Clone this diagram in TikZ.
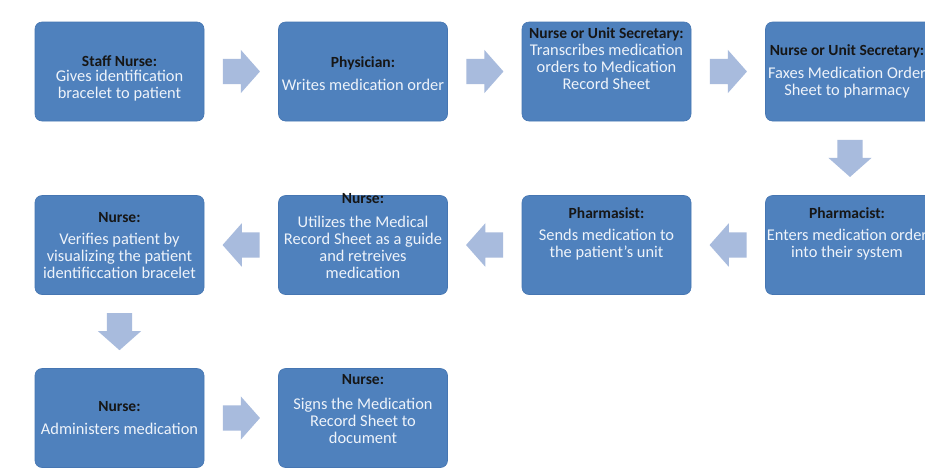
\documentclass[tikz,border=0pt]{standalone}
\usepackage{fontspec}
\setmainfont{Carlito}
\usetikzlibrary{shapes.arrows,calc}
\definecolor{boxblue}{HTML}{4F81BD}
\definecolor{boxedge}{HTML}{4676B2}
\definecolor{arrowblue}{HTML}{A8BBDD}
\definecolor{titleink}{HTML}{161616}
\definecolor{bodyink}{HTML}{EEF3FA}
\newcommand{\steptitle}[1]{{\fontsize{15.5}{17}\selectfont\bfseries\color{titleink}#1}}
\begin{document}
\begin{tikzpicture}[x=1pt,y=-1pt,
  stepbox/.style={draw=boxedge, line width=0.6pt, fill=boxblue, rounded corners=7pt,
    minimum width=169pt, minimum height=99pt, inner sep=0pt},
  steptext/.style={anchor=north, align=center, inner sep=0pt, text=bodyink,
    font=\fontsize{16.4}{17}\selectfont},
  flowarrow/.style={single arrow, fill=arrowblue, draw=none, minimum height=37pt,
    minimum width=0pt, single arrow head extend=9pt, single arrow tip angle=97,
    inner xsep=0pt, inner ysep=12.5pt, anchor=tail}]
\useasboundingbox (0,0) rectangle (925,467);
\clip (0,0) rectangle (925,467);
\fill[white] (0,0) rectangle (925,467);

% process boxes: three rows, snake order
\node[stepbox] (b1) at (119.5,71.5) {};
\node[stepbox] (b2) at (363,71.5) {};
\node[stepbox] (b3) at (606.5,71.5) {};
\node[stepbox] (b4) at (850,71.5) {};
\node[stepbox] (c4) at (850,245) {};
\node[stepbox] (c3) at (606.5,245) {};
\node[stepbox] (c2) at (363,245) {};
\node[stepbox] (c1) at (119.5,245) {};
\node[stepbox] (d1) at (119.5,418) {};
\node[stepbox] (d2) at (363,418) {};

% box labels
\node[steptext] (tb1) at (119.5,55) {\steptitle{Staff Nurse:}\\[-2pt] Gives identification\\ bracelet to patient};
\node[steptext] (tb2) at (363,56) {\steptitle{Physician:}\\[6pt] Writes medication order};
\node[steptext] (tb3) at (606.5,27) {\steptitle{Nurse or Unit Secretary:}\\ Transcribes medication\\ orders to Medication\\ Record Sheet};
\node[steptext] (tb4) at (847,44) {\steptitle{Nurse or Unit Secretary:}\\[6pt] Faxes Medication Order\\ Sheet to pharmacy};
\node[steptext] (tc4) at (847,207) {\steptitle{Pharmacist:}\\[5pt] Enters medication order\\ into their system};
\node[steptext] (tc3) at (606.5,207) {\steptitle{Pharmasist:}\\[5pt] Sends medication to\\ the patient's unit};
\node[steptext] (tc2) at (363,193) {\steptitle{Nurse:}\\[7pt] Utilizes the Medical\\ Record Sheet as a guide\\ and retreives\\ medication};
\node[steptext] (tc1) at (119.5,212) {\steptitle{Nurse:}\\[5pt] Verifies patient by\\ visualizing the patient\\ identificcation bracelet};
\node[steptext] (td1) at (119.5,401) {\steptitle{Nurse:}\\[6pt] Administers medication};
\node[steptext] (td2) at (363,374) {\steptitle{Nurse:}\\[8pt] Signs the Medication\\ Record Sheet to\\ document};

% midpoints of the gaps between consecutive steps
\coordinate (m1) at ($(b1.east)!0.5!(b2.west)$);
\coordinate (m2) at ($(b2.east)!0.5!(b3.west)$);
\coordinate (m3) at ($(b3.east)!0.5!(b4.west)$);
\coordinate (m4) at ($(b4.south)!0.5!(c4.north)$);
\coordinate (m5) at ($(c4.west)!0.5!(c3.east)$);
\coordinate (m6) at ($(c3.west)!0.5!(c2.east)$);
\coordinate (m7) at ($(c2.west)!0.5!(c1.east)$);
\coordinate (m8) at ($(c1.south)!0.5!(d1.north)$);
\coordinate (m9) at ($(d1.east)!0.5!(d2.west)$);

% block arrows, each centred in its gap
\node[flowarrow] (a1) at ($(m1)+(-18.5,0)$) {};
\node[flowarrow] (a2) at ($(m2)+(-18.5,0)$) {};
\node[flowarrow] (a3) at ($(m3)+(-18.5,0)$) {};
\node[flowarrow, rotate=-90] (a4) at ($(m4)+(0,-18.5)$) {};
\node[flowarrow, rotate=180] (a5) at ($(m5)+(18.5,0)$) {};
\node[flowarrow, rotate=180] (a6) at ($(m6)+(18.5,0)$) {};
\node[flowarrow, rotate=180] (a7) at ($(m7)+(18.5,0)$) {};
\node[flowarrow, rotate=-90] (a8) at ($(m8)+(0,-18.5)$) {};
\node[flowarrow] (a9) at ($(m9)+(-18.5,0)$) {};
\end{tikzpicture}
\end{document}
